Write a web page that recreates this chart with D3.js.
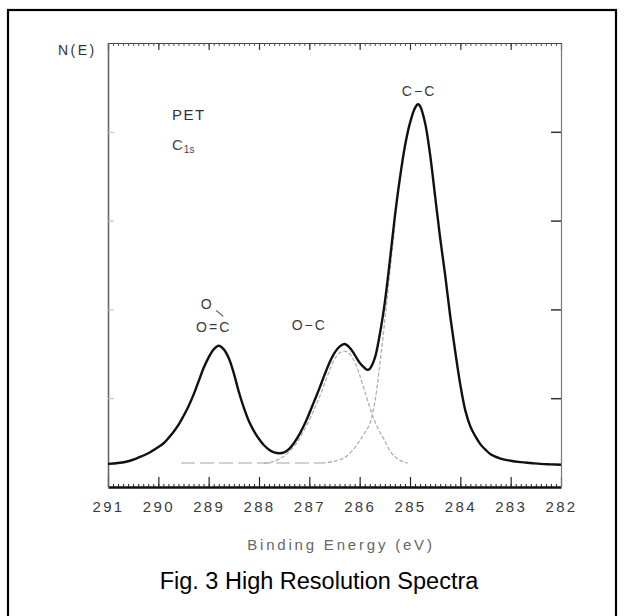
<!DOCTYPE html>
<html><head><meta charset="utf-8">
<script src="https://cdn.jsdelivr.net/npm/d3@7/dist/d3.min.js"></script>
<style>body{margin:0;background:#fff}svg{display:block}</style>
</head><body>
<svg id="chart" width="624" height="616"></svg>
<script>
// ---- data ----
const xTickValues = [291, 290, 289, 288, 287, 286, 285, 284, 283, 282];
const yTickValues = [1, 2, 3, 4];

const totalEnergy = [291.0,290.8,290.6,290.4,290.2,290.0,289.9,289.8,289.7,289.6,289.5,289.4,289.3,289.2,289.1,289.0,288.9,288.8,288.7,288.6,288.5,288.4,288.3,288.2,288.1,288.0,287.9,287.8,287.7,287.6,287.5,287.4,287.3,287.2,287.1,287.0,286.9,286.8,286.7,286.6,286.5,286.4,286.3,286.2,286.1,286.0,285.9,285.85,285.8,285.7,285.6,285.5,285.4,285.3,285.2,285.1,285.0,284.9,284.84,284.8,284.7,284.6,284.5,284.4,284.3,284.2,284.1,284.0,283.9,283.8,283.7,283.6,283.5,283.4,283.2,283.0,282.8,282.6,282.4,282.2,282.0];
const totalIntensity = [0.26,0.27,0.29,0.33,0.38,0.45,0.49,0.55,0.62,0.70,0.80,0.91,1.04,1.19,1.34,1.46,1.55,1.59,1.55,1.45,1.28,1.07,0.89,0.74,0.63,0.54,0.47,0.42,0.39,0.38,0.39,0.43,0.50,0.59,0.70,0.83,0.97,1.11,1.26,1.40,1.51,1.58,1.61,1.57,1.49,1.40,1.34,1.32,1.33,1.45,1.72,2.08,2.55,3.05,3.48,3.84,4.10,4.27,4.31,4.29,4.10,3.74,3.27,2.80,2.38,1.92,1.52,1.15,0.86,0.68,0.57,0.48,0.42,0.37,0.32,0.295,0.28,0.27,0.26,0.255,0.25];

const ocEnergy = [287.9,287.7,287.5,287.3,287.1,286.9,286.8,286.7,286.6,286.5,286.4,286.3,286.2,286.1,286.0,285.9,285.8,285.7,285.6,285.5,285.4,285.3,285.2,285.05];
const ocIntensity = [0.27,0.29,0.35,0.46,0.64,0.88,1.01,1.16,1.31,1.44,1.51,1.53,1.50,1.41,1.26,1.08,0.90,0.74,0.62,0.52,0.41,0.34,0.30,0.27];

const ccEnergy = [286.75,286.5,286.3,286.1,286.0,285.9,285.8,285.7,285.6,285.5,285.4,285.3];
const ccIntensity = [0.27,0.29,0.33,0.44,0.52,0.61,0.71,0.95,1.38,1.88,2.42,2.96];

const baseEnergy = [289.55, 286.75];
const baseIntensity = [0.27, 0.27];

const peakLabels = ["C\u2212C", "O\u2212C", "O=C", "O"];
const peakLabelEnergy = [284.82, 287.0, 288.9, 289.03];
const peakLabelIntensity = [4.4, 1.77, 1.75, 2.0];

// ---- layout ----
const svg = d3.select("#chart");
const L = 108, R = 561, T = 43, B = 487;
const x = d3.scaleLinear().domain([291, 282]).range([L, R]);
const y = d3.scaleLinear().domain([0, 5]).range([B, T]);

// outer frame
svg.append("rect").attr("x", 8).attr("y", 10).attr("width", 608).attr("height", 640)
  .attr("fill", "none").attr("stroke", "#000").attr("stroke-width", 2.2);

const minor = d3.range(2820, 2911, 1).map(d => d / 10);
const ink = "#3a3a3a";

// bottom axis
const gB = svg.append("g").attr("transform", `translate(0,${B})`);
gB.call(d3.axisBottom(x).tickValues(minor).tickSize(-3).tickSizeOuter(0).tickFormat(""));
gB.select(".domain").attr("stroke", "#111").attr("stroke-width", 2.4);
gB.selectAll(".tick line").attr("stroke", "#222");
const gB2 = svg.append("g").attr("transform", `translate(0,${B})`);
gB2.call(d3.axisBottom(x).tickValues(xTickValues).tickSize(-10).tickSizeOuter(0).tickPadding(14).tickFormat(d3.format("d")));
gB2.select(".domain").remove();
gB2.selectAll(".tick line").attr("stroke", "#222").attr("stroke-width", 1.2);
gB2.selectAll(".tick text").attr("font-family", "Liberation Sans, Arial, sans-serif")
  .attr("font-size", 15).attr("letter-spacing", "2.3px").attr("fill", ink);

// top axis
const gT = svg.append("g").attr("transform", `translate(0,${T})`);
gT.call(d3.axisTop(x).tickValues(minor).tickSize(-3).tickSizeOuter(0).tickFormat(""));
gT.select(".domain").attr("stroke", "#444").attr("stroke-width", 1.2);
gT.selectAll(".tick line").attr("stroke", "#555");
const gT2 = svg.append("g").attr("transform", `translate(0,${T})`);
gT2.call(d3.axisTop(x).tickValues(xTickValues).tickSize(-7).tickSizeOuter(0).tickFormat(""));
gT2.select(".domain").remove();
gT2.selectAll(".tick line").attr("stroke", "#333").attr("stroke-width", 1.2);

// right axis
const gR = svg.append("g").attr("transform", `translate(${R},0)`);
gR.call(d3.axisRight(y).tickValues(yTickValues).tickSize(-10).tickSizeOuter(0).tickFormat(""));
gR.select(".domain").attr("stroke", "#777").attr("stroke-width", 1.2);
gR.selectAll(".tick line").attr("stroke", "#333").attr("stroke-width", 1.5);

// left axis
const gL = svg.append("g").attr("transform", `translate(${L},0)`);
gL.call(d3.axisLeft(y).tickValues(yTickValues).tickSize(-6).tickSizeOuter(0).tickFormat(""));
gL.select(".domain").attr("stroke", "#666").attr("stroke-width", 1.6);
gL.selectAll(".tick line").attr("stroke", "#bbb").attr("stroke-width", 1);

// curves
const line = d3.line().x(d => x(d[0])).y(d => y(d[1])).curve(d3.curveCatmullRom.alpha(0.5));
const zip = (a, b) => a.map((v, i) => [v, b[i]]);

svg.append("path").datum(zip(baseEnergy, baseIntensity)).attr("d", line)
  .attr("fill", "none").attr("stroke", "#c4c4c4").attr("stroke-width", 1.3).attr("stroke-dasharray", "14,5");
svg.append("path").datum(zip(ocEnergy, ocIntensity)).attr("d", line)
  .attr("fill", "none").attr("stroke", "#b0b0b0").attr("stroke-width", 1.3).attr("stroke-dasharray", "4,2");
svg.append("path").datum(zip(ccEnergy, ccIntensity)).attr("d", line)
  .attr("fill", "none").attr("stroke", "#b0b0b0").attr("stroke-width", 1.3).attr("stroke-dasharray", "4,2");
svg.append("path").datum(zip(totalEnergy, totalIntensity)).attr("d", line)
  .attr("fill", "none").attr("stroke", "#111").attr("stroke-width", 2.4).attr("stroke-linejoin", "round");

// texts
const plotFont = "Liberation Sans, Arial, sans-serif";
svg.append("text").attr("x", 58).attr("y", 55).text("N(E)")
  .attr("font-family", plotFont).attr("font-size", 14).attr("letter-spacing", "2.5px").attr("fill", "#333");
svg.append("text").attr("x", 172).attr("y", 120).text("PET")
  .attr("font-family", plotFont).attr("font-size", 15).attr("letter-spacing", "1.5px").attr("fill", "#333");
const c1s = svg.append("text").attr("x", 172).attr("y", 150)
  .attr("font-family", plotFont).attr("font-size", 15).attr("fill", "#444");
c1s.append("tspan").text("C");
c1s.append("tspan").attr("font-size", 10).attr("dy", 3).attr("dx", 1).text("1s");

peakLabels.forEach((t, i) => {
  svg.append("text").attr("x", x(peakLabelEnergy[i])).attr("y", y(peakLabelIntensity[i]))
    .attr("text-anchor", "middle").text(t)
    .attr("font-family", plotFont).attr("font-size", 14).attr("letter-spacing", "2px").attr("fill", "#3a3a3a");
});
// bond stroke between O and C=O
svg.append("line").attr("x1", x(289.03) + 9).attr("y1", y(2.0) + 1)
  .attr("x2", x(289.03) + 16).attr("y2", y(2.0) + 7)
  .attr("stroke", "#555").attr("stroke-width", 1.2);

svg.append("text").attr("x", 341).attr("y", 550).attr("text-anchor", "middle")
  .text("Binding Energy (eV)")
  .attr("font-family", plotFont).attr("font-size", 15).attr("letter-spacing", "2.8px").attr("fill", "#666");

svg.append("text").attr("x", 319).attr("y", 589).attr("text-anchor", "middle")
  .text("Fig. 3 High Resolution Spectra")
  .attr("font-family", "Liberation Sans, Arial, sans-serif").attr("font-size", 23.5).attr("fill", "#000");
</script>
</body></html>
